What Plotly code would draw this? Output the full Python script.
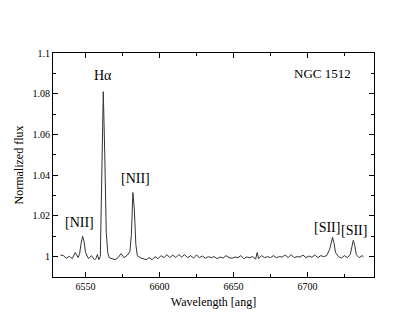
import plotly.graph_objects as go

# spectrum (wavelength in angstrom, normalized flux)
wave = [6533, 6535, 6537, 6539, 6541, 6543, 6545, 6546, 6547, 6548, 6549, 6550,
        6552, 6554, 6556, 6557, 6558, 6559, 6560, 6561, 6562, 6563, 6564, 6565,
        6566, 6568, 6570, 6572, 6574, 6576, 6578, 6580, 6581, 6582, 6583, 6584,
        6585, 6587, 6589, 6591, 6593, 6595, 6597, 6599, 6601, 6603, 6605, 6607,
        6609, 6611, 6613, 6615, 6617, 6619, 6621, 6623, 6625, 6627, 6629, 6631,
        6633, 6635, 6637, 6639, 6641, 6643, 6645, 6647, 6649, 6651, 6653, 6655,
        6657, 6659, 6661, 6663, 6665, 6666, 6667, 6669, 6671, 6673, 6675, 6677,
        6679, 6681, 6683, 6685, 6687, 6689, 6691, 6693, 6695, 6697, 6699, 6701,
        6703, 6705, 6707, 6709, 6711, 6713, 6715, 6716, 6717, 6718, 6719, 6721,
        6723, 6725, 6727, 6729, 6730, 6731, 6732, 6733, 6735, 6737, 6738]
flux = [1.0008, 1.0005, 0.9992, 1.0002, 0.9990, 1.0020, 0.9995, 1.0015, 1.0065, 1.0100, 1.0075, 1.0020,
        0.9990, 1.0005, 0.9985, 0.9990, 1.0010, 0.9985, 1.0000, 1.0350, 1.0810, 1.0500, 1.0120, 1.0020,
        0.9995, 0.9990, 0.9985, 0.9995, 1.0015, 0.9995, 1.0005, 1.0025, 1.0110, 1.0315, 1.0230, 1.0060,
        1.0005, 0.9995, 0.9990, 0.9985, 0.9995, 0.9985, 1.0000, 0.9990, 1.0005, 0.9995, 1.0010, 0.9995,
        1.0008, 0.9995, 1.0010, 0.9998, 1.0010, 0.9995, 1.0005, 0.9993, 1.0008, 0.9995, 1.0003, 0.9992,
        1.0000, 0.9995, 1.0000, 0.9990, 0.9998, 0.9993, 1.0005, 0.9995, 0.9992, 0.9998, 0.9995, 1.0005,
        0.9990, 0.9998, 0.9995, 1.0000, 0.9988, 1.0020, 0.9990, 1.0005, 0.9995, 1.0000, 0.9995, 1.0005,
        0.9995, 1.0000, 0.9998, 1.0008, 0.9995, 1.0010, 0.9995, 1.0000, 0.9998, 1.0008, 0.9995, 1.0003,
        0.9997, 1.0008, 0.9995, 1.0005, 1.0000, 1.0005, 1.0035, 1.0075, 1.0095, 1.0065, 1.0020, 1.0000,
        0.9993, 1.0005, 0.9995, 1.0012, 1.0045, 1.0080, 1.0055, 1.0010, 0.9995, 1.0005, 0.9998]

# line labels
label_text = ["H\u03b1", "[NII]", "[NII]", "[SII]", "[SII]", "NGC 1512"]
label_x = [6562, 6546, 6583.5, 6713.2, 6731.6, 6710]
label_y = [1.089, 1.0168, 1.0386, 1.0142, 1.0130, 1.090]
label_size = [14, 14, 14, 14, 14, 13]

serif = "Liberation Serif"

fig = go.Figure()
fig.add_trace(go.Scatter(x=wave, y=flux, mode="lines",
                         line=dict(color="#333333", width=1), showlegend=False))

for t, x, y, s in zip(label_text, label_x, label_y, label_size):
    fig.add_annotation(x=x, y=y, text=t, showarrow=False,
                       font=dict(family=serif, size=s, color="black"))

axis_style = dict(showline=True, linecolor="black", linewidth=1, mirror="allticks",
                  ticks="inside", ticklen=5, tickcolor="black", showgrid=False,
                  zeroline=False, automargin=False,
                  tickfont=dict(family=serif, size=10, color="black"))

fig.update_xaxes(range=[6528, 6745], tick0=6550, dtick=50,
                 minor=dict(ticks="inside", ticklen=3, dtick=25, tick0=6550, tickcolor="black"),
                 title=dict(text="Wavelength [ang]", font=dict(family=serif, size=12, color="black"),
                            standoff=6),
                 **axis_style)
fig.update_yaxes(range=[0.99, 1.1], tick0=1, dtick=0.02,
                 minor=dict(ticks="inside", ticklen=3, dtick=0.01, tick0=1, tickcolor="black"),
                 title=dict(text="Normalized flux", font=dict(family=serif, size=12, color="black"),
                            standoff=6),
                 **axis_style)

# the page body adds an 8px offset, so margins are shifted to keep the frame in place
fig.update_layout(width=415, height=321, margin=dict(l=45, r=49, t=45, b=52),
                  plot_bgcolor="white", paper_bgcolor="white")

fig.write_html("out.html")
